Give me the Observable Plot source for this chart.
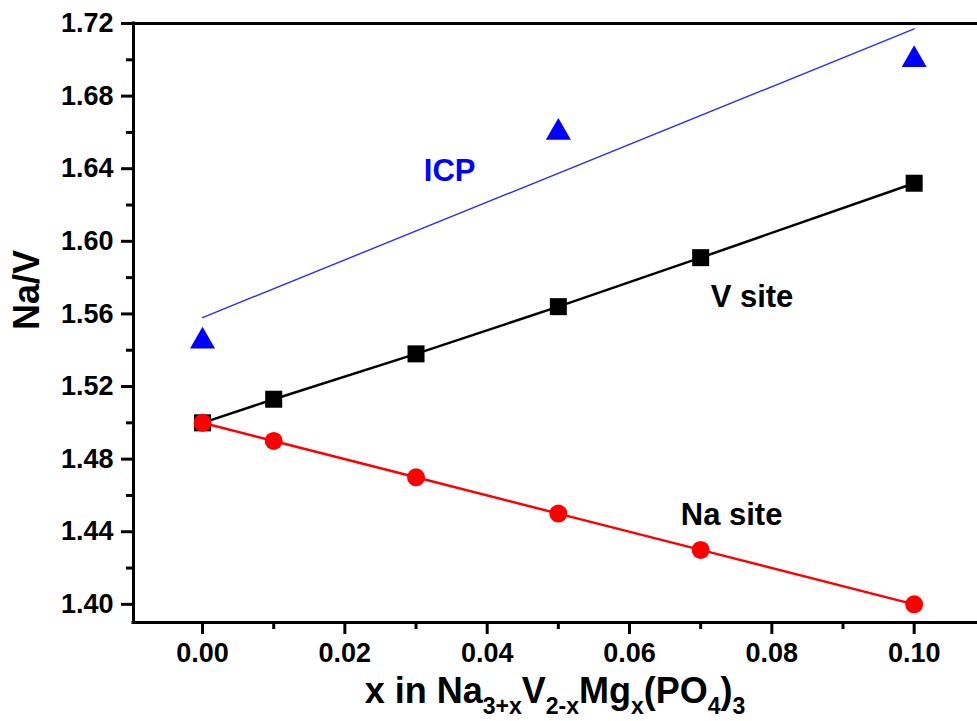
<!DOCTYPE html>
<html>
<head>
<meta charset="utf-8">
<script src="https://cdn.jsdelivr.net/npm/d3@7"></script>
<script src="https://cdn.jsdelivr.net/npm/@observablehq/plot@0.6"></script>
<style>
  html, body { margin: 0; padding: 0; background: #fff; }
  svg { font-family: "Liberation Sans", Arial, sans-serif; }
</style>
</head>
<body>
<div id="chart"></div>
<script>
// ---- data ----
const xVals = [0, 0.01, 0.03, 0.05, 0.07, 0.10];
const naSite = [1.50, 1.49, 1.47, 1.45, 1.43, 1.40];
const vSite = [1.500, 1.513, 1.538, 1.564, 1.591, 1.632];
const icpX = [0, 0.05, 0.10];
const icpVals = [1.545, 1.660, 1.700];
const icpFitX = [0, 0.10];
const icpFit = [1.558, 1.717];
const xTicks = [0, 0.02, 0.04, 0.06, 0.08, 0.10];
const xMinor = [0.01, 0.03, 0.05, 0.07, 0.09];
const yTicks = [1.40, 1.44, 1.48, 1.52, 1.56, 1.60, 1.64, 1.68, 1.72];
const yMinor = [1.42, 1.46, 1.50, 1.54, 1.58, 1.62, 1.66, 1.70];
const seriesLabels = ["ICP", "V site", "Na site"];

const na = xVals.map((x, i) => ({x, y: naSite[i]}));
const vs = xVals.map((x, i) => ({x, y: vSite[i]}));
const icp = icpX.map((x, i) => ({x, y: icpVals[i]}));
const fit = icpFitX.map((x, i) => ({x, y: icpFit[i]}));

const xDom = [-0.0097, 0.1089];
const yDom = [1.39, 1.72];
const tickFont = {fontSize: 27, fontWeight: "bold", fill: "black"};
const annFont = {fontSize: 31, fontWeight: "bold", textAnchor: "start"};
const fmt = d3.format(".2f");

const chart = Plot.plot({
  width: 977,
  height: 721,
  marginLeft: 133,
  marginRight: 0,
  marginTop: 23,
  marginBottom: 99,
  x: {domain: xDom},
  y: {domain: yDom},
  marks: [
    Plot.axisY(yTicks, {tickSize: 12, tickPadding: 8, strokeWidth: 3, tickFormat: fmt, label: null, ...tickFont}),
    Plot.axisY(yMinor, {tickSize: 7, strokeWidth: 3, tickFormat: () => "", label: null}),
    Plot.axisX(xTicks, {tickSize: 12, tickPadding: 8, strokeWidth: 3, tickFormat: fmt, label: null, ...tickFont}),
    Plot.axisX(xMinor, {tickSize: 7, strokeWidth: 3, tickFormat: () => "", label: null}),
    Plot.ruleX([xDom[0]], {strokeWidth: 3, strokeLinecap: "square"}),
    Plot.ruleY([yDom[0]], {strokeWidth: 3, strokeLinecap: "square"}),
    Plot.ruleY([yDom[1]], {strokeWidth: 3, strokeLinecap: "square"}),
    // ICP fit and points
    Plot.line(fit, {x: "x", y: "y", stroke: "#2b2bff", strokeWidth: 1.4}),
    Plot.dot(icp, {x: "x", y: "y", symbol: "triangle", r: 9.3, fill: "#0000ff", stroke: "none"}),
    // V site
    Plot.line(vs, {x: "x", y: "y", stroke: "black", strokeWidth: 2.5}),
    Plot.dot(vs, {x: "x", y: "y", symbol: "square", r: 9.6, fill: "black", stroke: "none"}),
    // Na site
    Plot.line(na, {x: "x", y: "y", stroke: "#ff0000", strokeWidth: 2.5}),
    Plot.dot(na, {x: "x", y: "y", r: 9, fill: "#ff0000", stroke: "none"}),
    // annotations
    Plot.text([seriesLabels[0]], {x: 0.0311, y: 1.6387, text: d => d, fill: "#0000ff", ...annFont}),
    Plot.text([seriesLabels[1]], {x: 0.0714, y: 1.5692, text: d => d, fill: "black", ...annFont}),
    Plot.text([seriesLabels[2]], {x: 0.0672, y: 1.449, text: d => d, fill: "black", ...annFont}),
    // y axis title
    Plot.text(["Na/V"], {frameAnchor: "left", dx: -106, dy: 7, rotate: -90, text: d => d, fontSize: 36, fontWeight: "bold", fill: "black"})
  ]
});

document.getElementById("chart").appendChild(chart);

const svg = d3.select(chart);
// enforce tick label font
svg.selectAll("text").filter(function() { return /^\d\.\d\d$/.test(this.textContent); })
  .style("font-size", "27px").style("font-weight", "bold");

// x axis title with subscripts
const t = svg.append("text")
  .attr("x", 555).attr("y", 703)
  .attr("text-anchor", "middle")
  .attr("font-size", 36).attr("font-weight", "bold").attr("fill", "black");
const parts = [["x in Na", false], ["3+x", true], ["V", false], ["2-x", true], ["Mg", false], ["x", true], ["(PO", false], ["4", true], [")", false], ["3", true]];
let down = false;
for (const [s, sub] of parts) {
  const sp = t.append("tspan").text(s);
  if (sub) { sp.attr("font-size", 23).attr("dy", down ? 0 : 11); down = true; }
  else { sp.attr("font-size", 36).attr("dy", down ? -11 : 0); down = false; }
}
</script>
</body>
</html>
